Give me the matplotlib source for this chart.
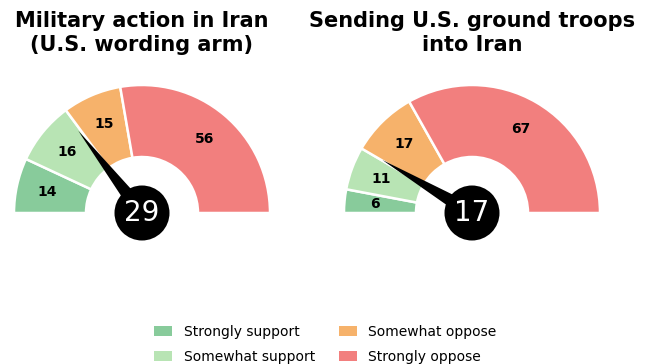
import matplotlib
matplotlib.use("Agg")
import matplotlib.pyplot as plt
from matplotlib.patches import Wedge, Circle, Polygon, Patch
import numpy as np

categories = ["Strongly support", "Somewhat support", "Somewhat oppose", "Strongly oppose"]
colors = ["#88cb9b", "#b8e4b4", "#f6b26b", "#f27f7e"]
titles = ["Military action in Iran\n(U.S. wording arm)", "Sending U.S. ground troops\ninto Iran"]
values_military = [14, 16, 15, 56]
values_troops = [6, 11, 17, 67]
needle_military = 29
needle_troops = 17

W, H = 651, 364
fig = plt.figure(figsize=(W / 100, H / 100), dpi=100)
ax = fig.add_axes([0, 0, 1, 1])
ax.set_xlim(0, W)
ax.set_ylim(0, H)
ax.axis("off")

R_OUT, R_IN = 128, 56
NEEDLE_LEN, NEEDLE_HW = 104, 8
CIRCLE_R = 27.5


def gauge(cx, cy, values, needle_val, title):
    total = sum(values)
    cum = 0
    for v, c in zip(values, colors):
        t2 = 180 - cum / total * 180
        t1 = 180 - (cum + v) / total * 180
        ax.add_patch(Wedge((cx, cy), R_OUT, t1, t2, width=R_OUT - R_IN,
                           facecolor=c, edgecolor="white", linewidth=1.8))
        mid = np.deg2rad((t1 + t2) / 2)
        rl = 97
        ax.text(cx + rl * np.cos(mid), cy + rl * np.sin(mid), str(v),
                ha="center", va="center", fontsize=10, fontweight="bold", color="black")
        cum += v
    ang = np.deg2rad(180 - needle_val / 100 * 180)
    tip = (cx + NEEDLE_LEN * np.cos(ang), cy + NEEDLE_LEN * np.sin(ang))
    px, py = -np.sin(ang), np.cos(ang)
    ax.add_patch(Polygon([(cx + NEEDLE_HW * px, cy + NEEDLE_HW * py), tip,
                          (cx - NEEDLE_HW * px, cy - NEEDLE_HW * py)],
                         closed=True, facecolor="black", edgecolor="none"))
    ax.add_patch(Circle((cx, cy), CIRCLE_R, facecolor="black", edgecolor="none"))
    ax.text(cx, cy, str(needle_val), ha="center", va="center", fontsize=20, color="white")
    ax.text(cx, H - 33, title, ha="center", va="center", fontsize=15,
            fontweight="bold", linespacing=1.2)


gauge(142, H - 213, values_military, needle_military, titles[0])
gauge(472, H - 213, values_troops, needle_troops, titles[1])

handles = [Patch(facecolor=c, edgecolor="none") for c in colors]
fig.legend(handles, categories, loc="lower center", bbox_to_anchor=(0.5, -0.033),
           ncol=2, frameon=False, fontsize=10, handlelength=1.25, handleheight=0.75,
           columnspacing=1.75, handletextpad=0.85, labelspacing=0.75)

fig.savefig("out.png", dpi=100)
